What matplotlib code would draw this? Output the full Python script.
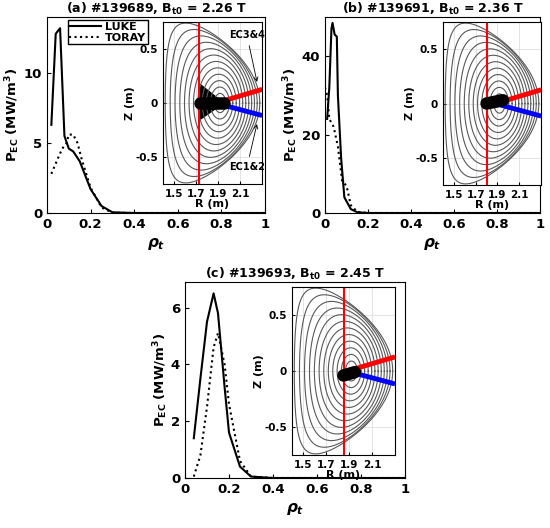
import numpy as np
import matplotlib
matplotlib.use("Agg")
import matplotlib.pyplot as plt

plt.rcParams['font.family'] = 'DejaVu Sans'
plt.rcParams['font.weight'] = 'bold'
plt.rcParams['axes.labelweight'] = 'bold'

# data
a_luke_x = [0.02, 0.04, 0.05, 0.06, 0.08, 0.1, 0.12, 0.15, 0.18, 0.2, 0.25, 0.3, 0.4, 1.0]
a_luke_y = [6.3, 12.8, 13.0, 13.2, 5.5, 4.6, 4.4, 3.7, 2.5, 1.7, 0.5, 0.05, 0, 0]
a_toray_x = [0.02, 0.05, 0.07, 0.09, 0.1, 0.12, 0.14, 0.16, 0.2, 0.25, 0.3, 0.4, 1.0]
a_toray_y = [2.8, 3.9, 4.6, 5.0, 5.6, 5.6, 5.0, 3.8, 1.8, 0.4, 0.02, 0, 0]
b_luke_x = [0.01, 0.02, 0.03, 0.035, 0.045, 0.055, 0.06, 0.075, 0.09, 0.12, 0.15, 0.2, 1.0]
b_luke_y = [24, 32, 47, 48.5, 45.5, 45, 30, 14, 4, 1, 0.2, 0, 0]
b_toray_x = [0.0, 0.01, 0.02, 0.04, 0.06, 0.08, 0.1, 0.12, 0.15, 0.2, 1.0]
b_toray_y = [32, 30, 24, 22, 17, 8, 7, 2, 0.3, 0, 0]
c_luke_x = [0.04, 0.07, 0.1, 0.13, 0.15, 0.18, 0.2, 0.25, 0.3, 0.4, 1.0]
c_luke_y = [1.4, 3.5, 5.5, 6.5, 5.8, 3.2, 1.6, 0.4, 0.05, 0, 0]
c_toray_x = [0.04, 0.07, 0.1, 0.13, 0.15, 0.18, 0.2, 0.25, 0.3, 0.4, 1.0]
c_toray_y = [0.05, 0.8, 2.5, 4.6, 5.1, 4.0, 2.6, 0.6, 0.05, 0, 0]
titles = ["(a) #139689, B$_{\\mathbf{t0}}$ = 2.26 T",
          "(b) #139691, B$_{\\mathbf{t0}}$ = 2.36 T",
          "(c) #139693, B$_{\\mathbf{t0}}$ = 2.45 T"]
ylims = [14, 50, 6.9]
yticks = [[0, 5, 10], [0, 20, 40], [0, 2, 4, 6]]
red_R = [1.73, 1.8, 1.85]
blob = [([1.74, 1.95], [0.0, 0.0]), ([1.8, 1.95], [0.0, 0.03]), ([1.85, 1.95], [-0.04, -0.01])]

W, H = 550, 528
fig = plt.figure(figsize=(5.5, 5.28), dpi=100)

def ax_px(x0, y0, x1, y1):
    return fig.add_axes([x0 / W, 1 - y1 / H, (x1 - x0) / W, (y1 - y0) / H])

mains = [ax_px(47, 17, 265, 213), ax_px(325, 17, 540, 213), ax_px(185, 282, 405, 478)]
insets = [ax_px(163, 22, 262, 184), ax_px(443, 22, 541, 185), ax_px(292, 287, 395, 455)]
datas = [(a_luke_x, a_luke_y, a_toray_x, a_toray_y),
         (b_luke_x, b_luke_y, b_toray_x, b_toray_y),
         (c_luke_x, c_luke_y, c_toray_x, c_toray_y)]

for i, ax in enumerate(mains):
    lx, ly, tx, ty = datas[i]
    ax.plot(lx, ly, 'k-', lw=1.5, label='LUKE')
    ax.plot(tx, ty, 'k:', lw=1.5, label='TORAY')
    ax.set_xlim(0, 1)
    ax.set_ylim(0, ylims[i])
    ax.set_yticks(yticks[i])
    ax.set_xticks([0, 0.2, 0.4, 0.6, 0.8, 1])
    ax.set_xticklabels(['0', '0.2', '0.4', '0.6', '0.8', '1'])
    ax.tick_params(labelsize=9.5, direction='in', length=3)
    ax.set_ylabel('P$_{\\mathbf{EC}}$ (MW/m$^{\\mathbf{3}}$)', fontsize=9.5, labelpad=1)
    ax.set_xlabel(r'$\rho_t$', fontsize=11)
    ax.set_title(titles[i], fontsize=9, fontweight='bold', pad=3)
    if i == 0:
        ax.legend(loc='upper left', bbox_to_anchor=(0.08, 1.0), fontsize=8,
                  handlelength=2.8, borderpad=0.15, labelspacing=0.05, handletextpad=0.4,
                  fancybox=False, edgecolor='k', framealpha=1, borderaxespad=0.3)

th = np.linspace(0, 2 * np.pi, 300)
for i, ax in enumerate(insets):
    for r in np.linspace(0.12, 1.0, 12):
        R0 = 1.92 - 0.07 * r ** 2
        R = R0 + 0.43 * r * np.cos(th + 0.6 * r ** 3 * np.sin(th))
        Z = 0.74 * r * np.sin(th)
        ax.plot(R, Z, color='0.35', lw=0.8)
    ax.axvline(red_R[i], color='red', lw=1.5)
    ax.plot([1.95, 2.28], [0.02, 0.12], color='red', lw=3.5)
    ax.plot([1.95, 2.28], [-0.02, -0.11], color='blue', lw=3.5)
    br, bz = blob[i]
    ax.plot(br, bz, color='k', lw=9, solid_capstyle='round')
    if i == 0:
        ax.fill([1.74, 1.74, 1.95], [0.17, -0.15, 0.0], color='k')
        ax.annotate('EC3&4', xy=(2.26, 0.17), xytext=(2.0, 0.6), fontsize=7,
                    arrowprops=dict(arrowstyle='->', color='k', lw=0.6))
        ax.annotate('EC1&2', xy=(2.26, -0.17), xytext=(2.0, -0.62), fontsize=7,
                    arrowprops=dict(arrowstyle='->', color='k', lw=0.6))
    ax.set_xlim(1.4, 2.3)
    ax.set_ylim(-0.75, 0.75)
    ax.set_xticks([1.5, 1.7, 1.9, 2.1])
    ax.set_yticks([-0.5, 0, 0.5])
    ax.set_yticklabels(['-0.5', '0', '0.5'])
    ax.grid(True, color='0.85', lw=0.5)
    ax.tick_params(labelsize=7.5, direction='in', length=2)
    ax.set_xlabel('R (m)', fontsize=8, labelpad=0)
    ax.set_ylabel('Z (m)', fontsize=8, labelpad=0)

fig.savefig('out.png', dpi=100)
